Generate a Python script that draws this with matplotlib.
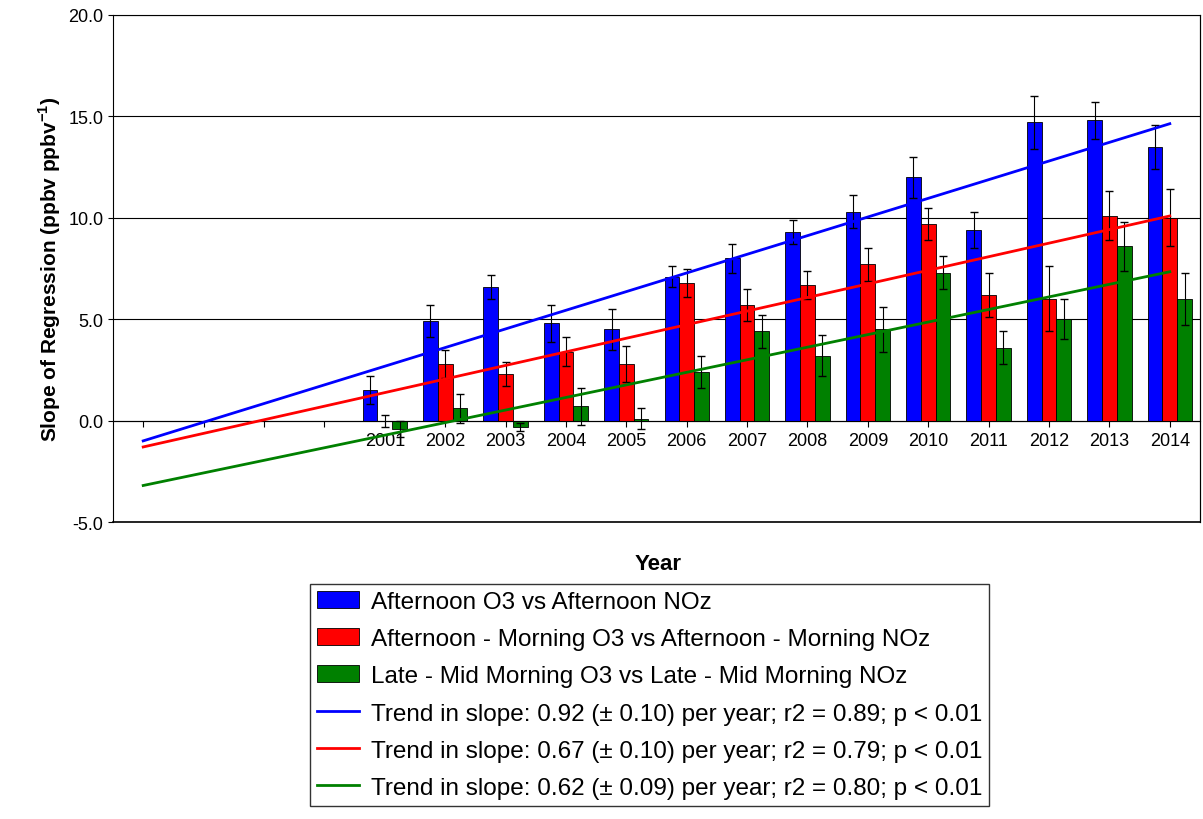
import numpy as np
import matplotlib.pyplot as plt

plt.rcParams['font.family'] = ['Liberation Sans', 'DejaVu Sans']
plt.rcParams['mathtext.fontset'] = 'custom'
plt.rcParams['mathtext.bf'] = 'Liberation Sans:bold'

years = list(range(1997, 2015))
labeled = [str(y) if y >= 2001 else '' for y in years]
afternoon = [np.nan]*4 + [1.5, 4.9, 6.6, 4.8, 4.5, 7.1, 8.0, 9.3, 10.3, 12.0, 9.4, 14.7, 14.8, 13.5]
afternoon_err = [0]*4 + [0.7, 0.8, 0.6, 0.9, 1.0, 0.5, 0.7, 0.6, 0.8, 1.0, 0.9, 1.3, 0.9, 1.1]
diff_am = [np.nan]*4 + [0.0, 2.8, 2.3, 3.4, 2.8, 6.8, 5.7, 6.7, 7.7, 9.7, 6.2, 6.0, 10.1, 10.0]
diff_am_err = [0]*4 + [0.3, 0.7, 0.6, 0.7, 0.9, 0.7, 0.8, 0.7, 0.8, 0.8, 1.1, 1.6, 1.2, 1.4]
late_mid = [np.nan]*4 + [-0.4, 0.6, -0.3, 0.7, 0.1, 2.4, 4.4, 3.2, 4.5, 7.3, 3.6, 5.0, 8.6, 6.0]
late_mid_err = [0]*4 + [0.4, 0.7, 0.2, 0.9, 0.5, 0.8, 0.8, 1.0, 1.1, 0.8, 0.8, 1.0, 1.2, 1.3]

trends = [(0.92, -1.0, 'blue', 'Trend in slope: 0.92 (± 0.10) per year; r2 = 0.89; p < 0.01'),
          (0.67, -1.3, 'red', 'Trend in slope: 0.67 (± 0.10) per year; r2 = 0.79; p < 0.01'),
          (0.62, -3.2, 'green', 'Trend in slope: 0.62 (± 0.09) per year; r2 = 0.80; p < 0.01')]

fig = plt.figure(figsize=(12.03, 8.2), dpi=100)
ax = fig.add_axes([113/1203, 1-523/820, 1087/1203, 507/820])
x = np.arange(len(years))
w = 0.245
series = [(afternoon, afternoon_err, 'blue', 'Afternoon O3 vs Afternoon NOz'),
          (diff_am, diff_am_err, 'red', 'Afternoon - Morning O3 vs Afternoon - Morning NOz'),
          (late_mid, late_mid_err, 'green', 'Late - Mid Morning O3 vs Late - Mid Morning NOz')]
handles = []
for i, (v, e, c, lab) in enumerate(series):
    b = ax.bar(x + (i-1)*w, v, w, color=c, edgecolor='black', linewidth=0.6, label=lab, zorder=2,
               yerr=np.where(np.isnan(v), np.nan, e), error_kw=dict(ecolor='black', elinewidth=0.8, capsize=3))
    handles.append(b)
for s, b0, c, lab in trends:
    l, = ax.plot(x, b0 + s*x, color=c, lw=2, label=lab, zorder=3)
    handles.append(l)

ax.set_xlim(-0.5, len(years)-0.5)
ax.set_ylim(-5, 20)
ax.set_yticks(np.arange(-5, 20.1, 5))
ax.set_yticklabels([f'{t:.1f}' for t in np.arange(-5, 20.1, 5)], fontsize=13)
ax.yaxis.grid(True, color='black', lw=0.8)
ax.set_axisbelow(True)
ax.spines['bottom'].set_position(('data', 0))
ax.set_xticks(x)
ax.set_xticklabels(labeled, fontsize=13)
ax.tick_params(axis='x', length=4, pad=4)
ax.plot([1, 1], [0, 1], transform=ax.transAxes, color='black', lw=0.8, clip_on=False)
ax.plot([0, 1], [0, 0], transform=ax.transAxes, color='black', lw=1.2, clip_on=False)
ax.set_ylabel(r'Slope of Regression (ppbv ppbv$^{\mathbf{-1}}$)', fontsize=15, fontweight='bold')
fig.text(658/1203, 1-565/820, 'Year', ha='center', va='center', fontsize=16, fontweight='bold')
leg = fig.legend(handles=handles, loc='upper left', bbox_to_anchor=(310/1203, 1-585/820),
                 fontsize=17.5, frameon=True, fancybox=False, edgecolor='black',
                 handlelength=1.7, handletextpad=0.5, labelspacing=0.62, borderaxespad=0, borderpad=0.3)
fig.savefig('out.png', dpi=100)
